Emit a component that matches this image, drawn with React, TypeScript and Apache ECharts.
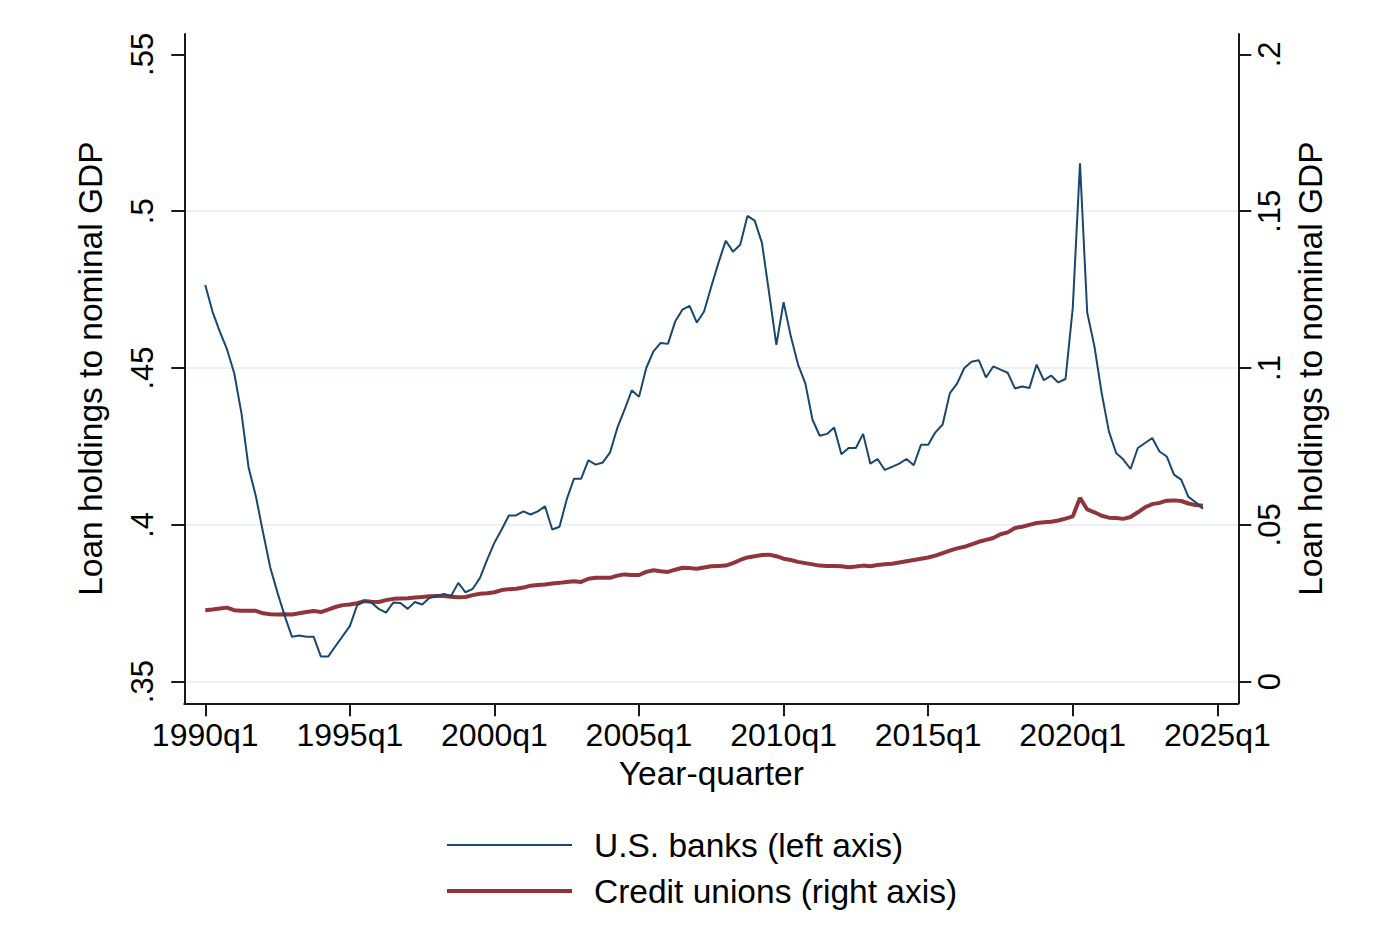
import React, { useEffect, useRef } from 'react';
import * as echarts from 'echarts';

// Quarterly observations starting 1990q1 (index 0 = 1990q1)
const bankRatio = [
  0.4765, 0.468, 0.4617, 0.456, 0.4484, 0.4357, 0.4182, 0.4091, 0.3975, 0.3863,
  0.3783, 0.3709, 0.3643, 0.3647, 0.3643, 0.3643, 0.358, 0.358, 0.3613, 0.3645,
  0.3677, 0.3743, 0.3757, 0.3752, 0.3732, 0.372, 0.3752, 0.3751, 0.3732, 0.3754,
  0.3746, 0.3767, 0.3773, 0.378, 0.3773, 0.3815, 0.3785, 0.3796, 0.3831, 0.3889,
  0.3943, 0.3985, 0.403, 0.403, 0.4043, 0.4033, 0.4043, 0.4059, 0.3985, 0.3994,
  0.4081, 0.4147, 0.4147, 0.4206, 0.4192, 0.4199, 0.4231, 0.4309, 0.4367, 0.4429,
  0.4408, 0.45, 0.4553, 0.458, 0.4577, 0.4648, 0.4686, 0.4698, 0.4645, 0.468,
  0.476, 0.4836, 0.4906, 0.4871, 0.4893, 0.4985, 0.497, 0.49, 0.4739, 0.4574,
  0.471, 0.4601, 0.4511, 0.4452, 0.4335, 0.4284, 0.429, 0.431, 0.4225, 0.4245,
  0.4245, 0.429, 0.4195, 0.421, 0.4175, 0.4185, 0.4195, 0.421, 0.419, 0.4255,
  0.4255, 0.4295, 0.432, 0.442, 0.445, 0.45, 0.452, 0.4525, 0.447, 0.4505,
  0.4495, 0.4485, 0.4435, 0.4441, 0.4436, 0.4511, 0.4461, 0.4476, 0.4454, 0.4465,
  0.4691, 0.5153, 0.4677, 0.4569, 0.442, 0.4298, 0.4229, 0.4208, 0.4178, 0.4245,
  0.4261, 0.4277, 0.4234, 0.4218, 0.416, 0.4144, 0.4089, 0.4072, 0.4051,
];

const creditUnionRatio = [
  0.0228, 0.023, 0.0233, 0.0236, 0.0228, 0.0226, 0.0226, 0.0226, 0.0218, 0.0215,
  0.0214, 0.0215, 0.0214, 0.0218, 0.0222, 0.0225, 0.0222, 0.023, 0.0238, 0.0244,
  0.0246, 0.025, 0.0257, 0.0255, 0.0254, 0.026, 0.0264, 0.0265, 0.0266, 0.0268,
  0.027, 0.0272, 0.0273, 0.0273, 0.0271, 0.0269, 0.027, 0.0276, 0.028, 0.0282,
  0.0285, 0.0292, 0.0295, 0.0296, 0.03, 0.0306, 0.0308, 0.031, 0.0313, 0.0315,
  0.0318, 0.032, 0.0318, 0.0328, 0.0331, 0.0331, 0.0331, 0.0338, 0.0342, 0.034,
  0.034, 0.035, 0.0355, 0.0352, 0.035, 0.0357, 0.0363, 0.0362, 0.036, 0.0364,
  0.0368, 0.0369, 0.037, 0.0378, 0.0388, 0.0396, 0.04, 0.0404, 0.0405, 0.04,
  0.0392, 0.0388, 0.0382, 0.0378, 0.0374, 0.037, 0.0369, 0.0369, 0.0368, 0.0365,
  0.0367, 0.037, 0.0368, 0.0372, 0.0374, 0.0376, 0.038, 0.0384, 0.0388, 0.0392,
  0.0396, 0.0402, 0.041, 0.0418, 0.0425, 0.043, 0.0438, 0.0446, 0.0452, 0.0458,
  0.047, 0.0476, 0.049, 0.0494, 0.05, 0.0506, 0.0508, 0.051, 0.0514, 0.052,
  0.0527, 0.0586, 0.0549, 0.054, 0.0529, 0.0523, 0.0522, 0.0519, 0.0525, 0.054,
  0.0556, 0.0566, 0.057, 0.0577, 0.0578, 0.0576, 0.0568, 0.0563, 0.0561,
];

const xTickQuarters = [0, 20, 40, 60, 80, 100, 120, 140];
const xTickLabels = ['1990q1', '1995q1', '2000q1', '2005q1', '2010q1', '2015q1', '2020q1', '2025q1'];
const leftTicks = [0.35, 0.4, 0.45, 0.5, 0.55];
const leftTickLabels = ['.35', '.4', '.45', '.5', '.55'];
const rightTicks = [0, 0.05, 0.1, 0.15, 0.2];
const rightTickLabels = ['0', '.05', '.1', '.15', '.2'];
const gridTicks = [0.35, 0.4, 0.45, 0.5];

const seriesNames = ['U.S. banks (left axis)', 'Credit unions (right axis)'];
const seriesColors = ['#1a476f', '#90353b'];
const seriesWidths = [2, 4];

const FONT = '"Liberation Sans", Arial, Helvetica, sans-serif';

function pick(ticks: number[], labels: string[]) {
  return (v: number) => {
    const k = ticks.findIndex((t) => Math.abs(t - v) < 1e-7);
    return k >= 0 ? labels[k] : '';
  };
}

export default function App() {
  const ref = useRef<HTMLDivElement>(null);

  useEffect(() => {
    if (!ref.current) return;
    const chart = echarts.init(ref.current, undefined, { renderer: 'svg' });

    const axisLine = { show: true, onZero: false, lineStyle: { color: '#1a1a1a', width: 2 } };
    const axisTick = (vals: number[]) => ({
      show: true,
      length: 13,
      customValues: vals,
      lineStyle: { color: '#1a1a1a', width: 2 },
    });

    const legendFor = (k: number, top: number) => ({
      show: true,
      orient: 'vertical',
      left: 442,
      top,
      itemWidth: 125,
      itemHeight: seriesWidths[k],
      selectedMode: false,
      data: [{ name: seriesNames[k], icon: 'rect' }],
      itemStyle: { color: seriesColors[k] },
      textStyle: { fontSize: 33.5, fontFamily: FONT, color: '#000', padding: [0, 0, 0, 17] },
    });

    chart.setOption({
      animation: false,
      backgroundColor: '#ffffff',
      textStyle: { fontFamily: FONT, color: '#000' },
      grid: {
        left: 184.3,
        right: 161.7,
        top: 34,
        bottom: 223.7,
        containLabel: false,
        outerBoundsMode: 'none',
      },
      legend: [legendFor(0, 823), legendFor(1, 869)],
      xAxis: {
        type: 'value',
        min: -2.9,
        max: 142.9,
        axisLine,
        axisTick: axisTick(xTickQuarters),
        splitLine: { show: false },
        axisLabel: {
          show: true,
          customValues: xTickQuarters,
          formatter: pick(xTickQuarters, xTickLabels),
          fontSize: 32,
          fontFamily: FONT,
          color: '#000',
          margin: 16,
        },
        name: 'Year-quarter',
        nameLocation: 'middle',
        nameGap: 52,
        nameTextStyle: { fontSize: 33.5, fontFamily: FONT, color: '#000' },
      },
      yAxis: [
        {
          type: 'value',
          position: 'left',
          min: 0.3431,
          max: 0.5565,
          axisLine,
          axisTick: axisTick(leftTicks),
          splitLine: { show: false },
          axisLabel: {
            show: true,
            customValues: leftTicks,
            formatter: pick(leftTicks, leftTickLabels),
            rotate: 90,
            fontSize: 31,
            fontFamily: FONT,
            color: '#000',
            margin: 26,
          },
          name: 'Loan holdings to nominal GDP',
          nameLocation: 'middle',
          nameRotate: 90,
          nameGap: 77,
          nameTextStyle: { fontSize: 33.5, fontFamily: FONT, color: '#000' },
        },
        {
          type: 'value',
          position: 'right',
          min: -0.0069,
          max: 0.2065,
          axisLine,
          axisTick: axisTick(rightTicks),
          splitLine: { show: false },
          axisLabel: {
            show: true,
            customValues: rightTicks,
            formatter: pick(rightTicks, rightTickLabels),
            rotate: 90,
            fontSize: 31,
            fontFamily: FONT,
            color: '#000',
            margin: 16,
          },
          name: 'Loan holdings to nominal GDP',
          nameLocation: 'middle',
          nameRotate: 90,
          nameGap: 53,
          nameTextStyle: { fontSize: 33.5, fontFamily: FONT, color: '#000' },
        },
        {
          type: 'value',
          position: 'left',
          min: 0.3431,
          max: 0.5565,
          axisLine: { show: false, onZero: false },
          axisTick: { show: false, customValues: gridTicks },
          axisLabel: { show: false, customValues: gridTicks },
          splitLine: { show: true, lineStyle: { color: '#e5eef1', width: 1.6 } },
        },
      ],
      series: [
        {
          name: seriesNames[0],
          type: 'line',
          yAxisIndex: 0,
          symbol: 'none',
          showSymbol: false,
          z: 3,
          lineStyle: { color: seriesColors[0], width: seriesWidths[0] },
          itemStyle: { color: seriesColors[0] },
          data: bankRatio.map((v, i) => [i, v]),
        },
        {
          name: seriesNames[1],
          type: 'line',
          yAxisIndex: 1,
          symbol: 'none',
          showSymbol: false,
          z: 2,
          lineStyle: { color: seriesColors[1], width: seriesWidths[1] },
          itemStyle: { color: seriesColors[1] },
          data: creditUnionRatio.map((v, i) => [i, v]),
        },
      ],
    });

    return () => chart.dispose();
  }, []);

  return (
    <div
      ref={ref}
      style={{ position: 'fixed', left: 0, top: 0, width: 1400, height: 927, background: '#fff' }}
    />
  );
}
